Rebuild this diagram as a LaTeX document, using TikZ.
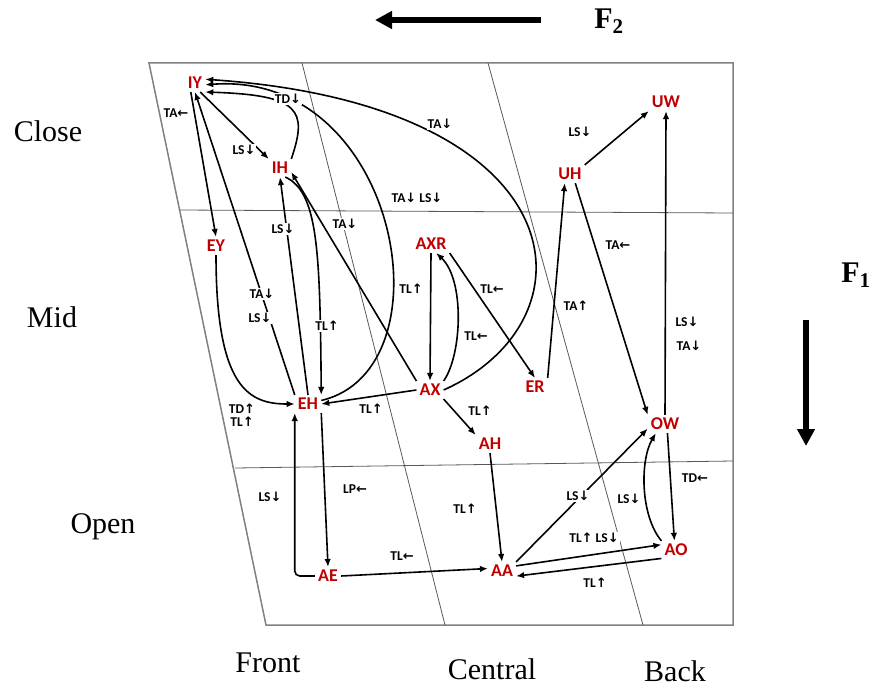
\documentclass[tikz,border=0pt]{standalone}
\usepackage{fontspec}
\setmainfont{Liberation Serif}
\newfontfamily\vowelfont{Carlito}
\newfontfamily\arrowfont{DejaVu Sans}
\usepackage{xcolor}
\usepackage{tikz}
\usetikzlibrary{arrows.meta}

\definecolor{vowelred}{RGB}{192,0,0}
\newcommand\arD{{\arrowfont\fontsize{13}{13}\selectfont ↓}}
\newcommand\arU{{\arrowfont\fontsize{13}{13}\selectfont ↑}}
\newcommand\arL{{\arrowfont\fontsize{13}{13}\selectfont ←}}

\begin{document}
\begin{tikzpicture}[
  x=1pt, y=-1pt,
  >={Latex[length=8pt,width=6.5pt]},
  vowel/.style={font=\vowelfont\bfseries\fontsize{18}{18}\selectfont,
                text=vowelred, inner sep=3pt},
  lbl/.style={font=\vowelfont\bfseries\fontsize{13.5}{13.5}\selectfont,
              fill=white, inner sep=1pt, align=center},
  axisword/.style={font=\fontsize{30}{30}\selectfont},
  link/.style={->, line width=1.6pt},
  divline/.style={black!65, line width=0.8pt},
  bigarrow/.style={-{Triangle[length=17pt,width=17pt]}, line width=6pt},
]
  \useasboundingbox (0,0) rectangle (874,690);

  % Chart
  \draw[gray, line width=1.5pt] (149,63) -- (733,63) -- (733,625) -- (266,625) -- cycle;
  \draw[divline] (180,210) -- (733,213);
  \draw[divline] (235,468) -- (733,461);
  \draw[divline] (302,63) -- (445,625);
  \draw[divline] (488,63) -- (643,625);

  % Axis words
  \node[axisword] (close) at (48,131) {Close};
  \node[axisword] (mid) at (52,317) {Mid};
  \node[axisword] (open) at (103,527) {Open};
  \node[axisword] (front) at (268,663) {Front};
  \node[axisword] (central) at (492,669) {Central};
  \node[axisword] (back) at (675,671) {Back};
  \node[axisword, font=\bfseries\fontsize{30}{30}\selectfont] (f2) at (609,21) {F\textsubscript{2}};
  \node[axisword, font=\bfseries\fontsize{30}{30}\selectfont] (f1) at (856,275) {F\textsubscript{1}};
  \coordinate (f2tail) at (541,20);
  \coordinate (f2head) at (375,20);
  \coordinate (f1tail) at (806,320);
  \coordinate (f1head) at (806,446);
  \draw[bigarrow] (f2tail) -- (f2head);
  \draw[bigarrow] (f1tail) -- (f1head);

  % Vowels
  \node[vowel] (IY) at (195,83) {IY};
  \node[vowel] (IH) at (280,168) {IH};
  \node[vowel] (EY) at (216,246) {EY};
  \node[vowel] (EH) at (308,404) {EH};
  \node[vowel] (AXR) at (431,244) {AXR};
  \node[vowel] (AX) at (430,390) {AX};
  \node[vowel] (ER) at (535,387) {ER};
  \node[vowel] (UH) at (570,174) {UH};
  \node[vowel] (UW) at (666,102) {UW};
  \node[vowel] (OW) at (665,424) {OW};
  \node[vowel] (AH) at (490,444) {AH};
  \node[vowel] (AE) at (328,576) {AE};
  \node[vowel] (AA) at (502,571) {AA};
  \node[vowel] (AO) at (676,550) {AO};

  % Front vowels
  \draw[link] (IY.-115) -- (EY.north);
  \draw[link] (EY.south) .. controls (216,390) and (250,404) .. (EH.west);
  \draw[link] (EH.north west) -- (IY.-90);
  \draw[link] (IY.-60) -- (IH.north west);
  \draw[link] (IH.north east) .. controls (308,110) and (300,95) .. (IY.south east);
  \draw[link] (EH.north) -- (IH.south);
  \draw[link] (IH.-60) .. controls (318,192) and (320,250) .. (EH.north east);
  \draw[link] (EH.15) .. controls (452,370) and (400,70) .. (IY.-10);
  \draw[link] (AX.east) .. controls (600,320) and (580,105) .. (IY.20);
  \draw[link] (AX.north west) -- (IH.-20);
  \draw[link] (AX.west) -- (EH.east);
  \draw[link] (EH.south east) -- (AE.north);
  \draw[link, rounded corners=5pt] (AE.west) -| (EH.south west);

  % Central vowels
  \draw[link] (AXR.south) -- (AX.north);
  \draw[link] (AX.north east) .. controls (462,355) and (465,280) .. (AXR.-60);
  \draw[link] (AXR.south east) -- (ER.north);
  \draw[link] (AX.south east) -- (AH.north west);
  \draw[link] (AH.south) -- (AA.north);
  \draw[link] (AE.east) -- (AA.170);

  % Back vowels
  \draw[link] (ER.north east) -- (UH.-120);
  \draw[link] (UH.-60) -- (OW.north west);
  \draw[link] (UH.north east) -- (UW.south west);
  \draw[link] (OW.north) -- (UW.south);
  \draw[link] (AA.north east) -- (OW.-165);
  \draw[link] (OW.-75) -- (AO.100);
  \draw[link] (AO.north west) .. controls (640,515) and (640,460) .. (OW.-135);
  \draw[link] (AA.20) -- (AO.160);
  \draw[link] (AO.-150) -- (AA.-20);

  % Labels
  \node[lbl] (tIYEY) at (176,113) {TA\arL};
  \node[lbl] (tIHIY) at (288,99) {TD\arD};
  \node[lbl] (tIYIH) at (244,150) {LS\arD};
  \node[lbl] (tAXIY) at (440,124) {TA\arD};
  \node[lbl] (tEHIY) at (417,198) {TA\arD{} LS\arD};
  \node[lbl] (tAXIH) at (345,224) {TA\arD};
  \node[lbl] (tEHIH) at (283,229) {LS\arD};
  \node[lbl] (tEHIYa) at (262,294) {TA\arD};
  \node[lbl] (tEHIYb) at (260,318) {LS\arD};
  \node[lbl] (tIHEH) at (327,326) {TL\arU};
  \node[lbl] (tEYEH) at (242,415) {TD\arU\\[0pt]TL\arU};
  \node[lbl] (tAXEH) at (371,409) {TL\arU};
  \node[lbl] (tAXRAX) at (411,289) {TL\arU};
  \node[lbl] (tAXRER) at (492,289) {TL\arL};
  \node[lbl] (tAXAXR) at (476,336) {TL\arL};
  \node[lbl] (tUHOW) at (618,245) {TA\arL};
  \node[lbl] (tERUH) at (576,306) {TA\arU};
  \node[lbl] (tUHUW) at (580,132) {LS\arD};
  \node[lbl] (tOWUWa) at (687,322) {LS\arD};
  \node[lbl] (tOWUWb) at (689,346) {TA\arD};
  \node[lbl] (tAXAH) at (480,411) {TL\arU};
  \node[lbl] (tAEEH) at (270,497) {LS\arD};
  \node[lbl] (tEHAE) at (355,489) {LP\arL};
  \node[lbl] (tAHAA) at (465,509) {TL\arU};
  \node[lbl] (tAEAA) at (402,556) {TL\arL};
  \node[lbl] (tAAOW) at (578,496) {LS\arD};
  \node[lbl] (tAOOW) at (629,499) {LS\arD};
  \node[lbl] (tOWAO) at (695,478) {TD\arL};
  \node[lbl] (tAAAO) at (594,538) {TL\arU{} LS\arD};
  \node[lbl] (tAOAA) at (595,583) {TL\arU};
\end{tikzpicture}
\end{document}
